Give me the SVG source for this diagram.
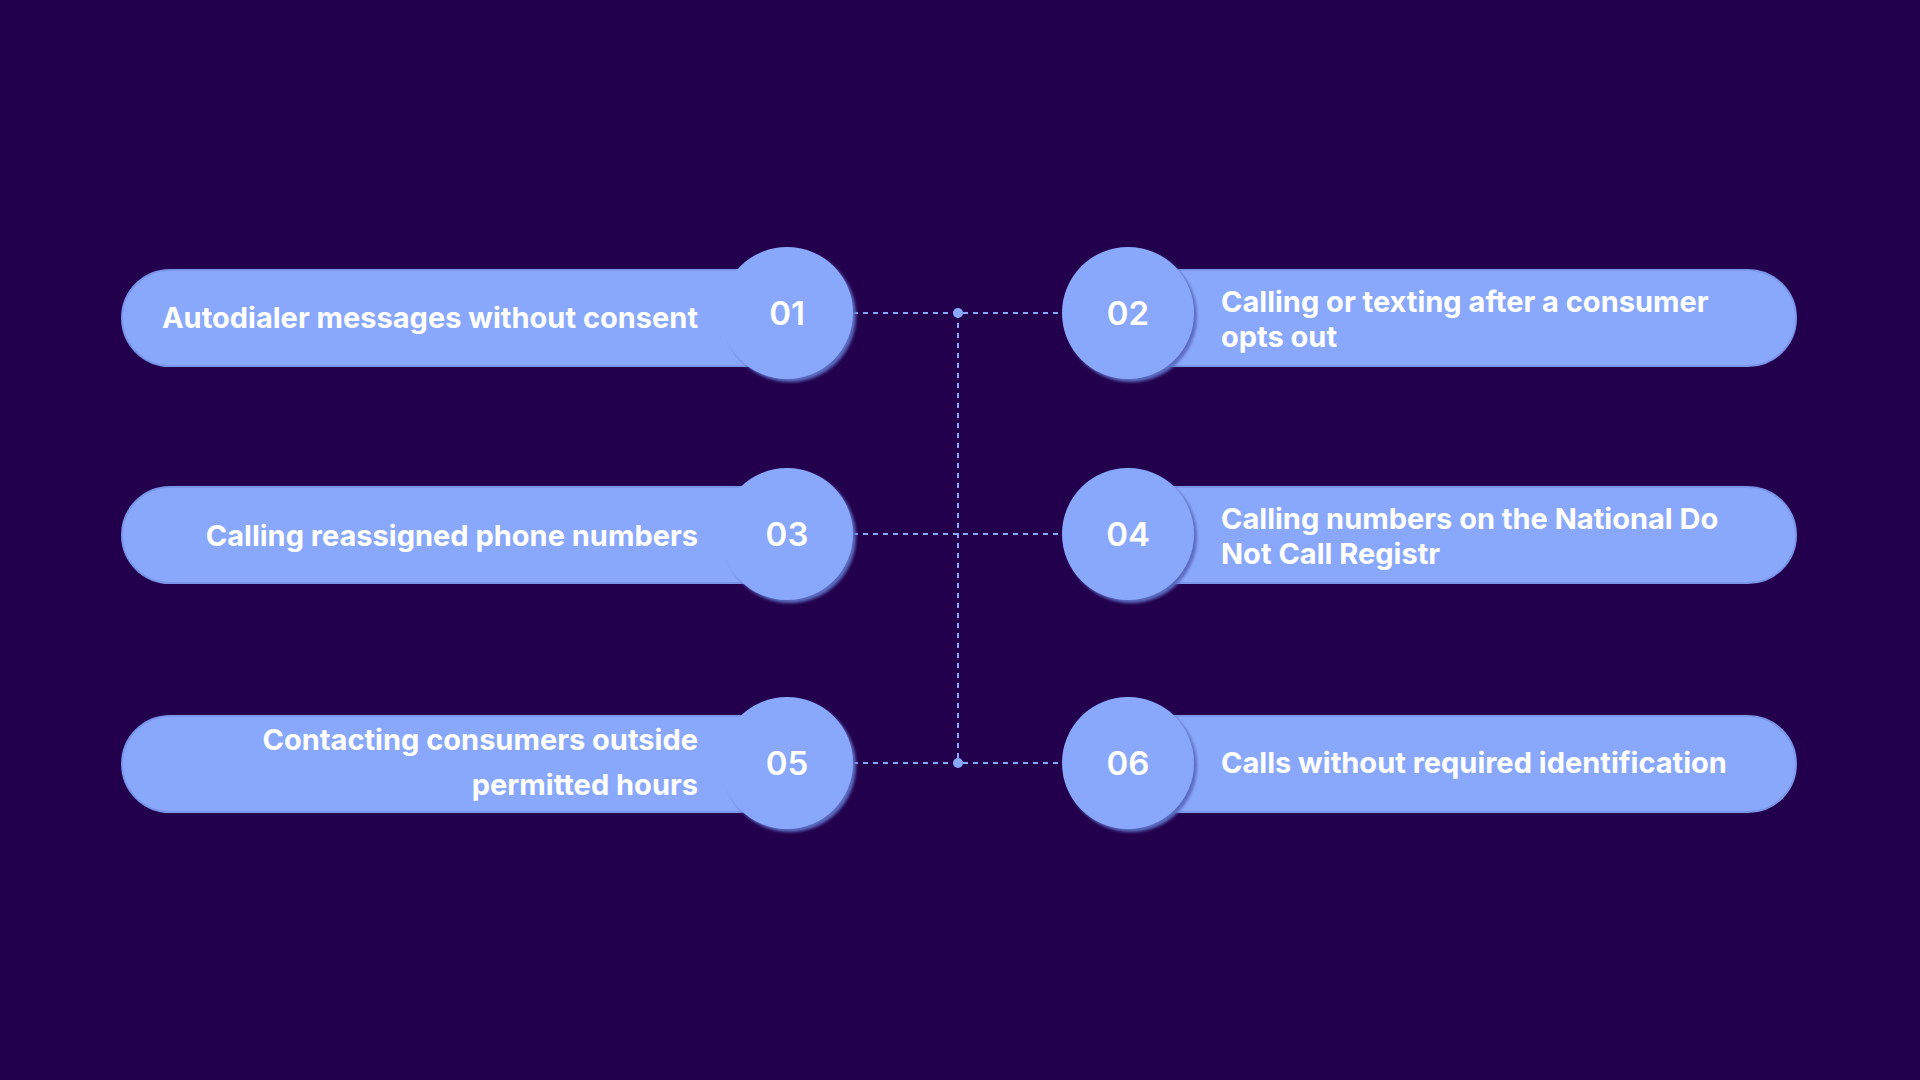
<svg xmlns="http://www.w3.org/2000/svg" width="1920" height="1080" viewBox="0 0 1920 1080">
<defs>
<filter id="sh" x="-20%" y="-20%" width="150%" height="150%"><feDropShadow dx="3" dy="3" stdDeviation="1.5" flood-color="#5a6cc0" flood-opacity="1"/></filter>
</defs>
<style>
.pill{fill:#8aa8fb;stroke:#7a95ea;stroke-width:2}
.circ{fill:#8aa8fb;filter:url(#sh)}
.t{font-family:Inter,"Liberation Sans",sans-serif;font-weight:700;font-size:29px;fill:#fff}
.n{font-family:Inter,"Liberation Sans",sans-serif;font-weight:600;font-size:33px;fill:#fff;text-anchor:middle}
.c{stroke:#8aa8fb;stroke-width:2;stroke-dasharray:5 5;fill:none}
</style>
<rect width="1920" height="1080" fill="#22004d"/>
<g id="connectors">
<path class="c" d="M853 313H1062M853 534H1062M853 763H1062M958 313V763"/>
<circle cx="958" cy="313" r="5" fill="#8aa8fb"/>
<circle cx="958" cy="763" r="5" fill="#8aa8fb"/>
</g>
<g id="n1"><rect class="pill" x="122" y="270" width="700" height="96" rx="48"/><circle class="circ" cx="787" cy="313" r="66"/><text class="n" x="787" y="325">01</text><text class="t" x="698" y="328" text-anchor="end">Autodialer messages without consent</text></g>
<g id="n2"><rect class="pill" x="1095" y="270" width="701" height="96" rx="48"/><circle class="circ" cx="1128" cy="313" r="66"/><text class="n" x="1128" y="325">02</text><text class="t" x="1221" y="312">Calling or texting after a consumer</text><text class="t" x="1221" y="347">opts out</text></g>
<g id="n3"><rect class="pill" x="122" y="487" width="700" height="96" rx="48"/><circle class="circ" cx="787" cy="534" r="66"/><text class="n" x="787" y="546">03</text><text class="t" x="698" y="546" text-anchor="end">Calling reassigned phone numbers</text></g>
<g id="n4"><rect class="pill" x="1095" y="487" width="701" height="96" rx="48"/><circle class="circ" cx="1128" cy="534" r="66"/><text class="n" x="1128" y="546">04</text><text class="t" x="1221" y="529">Calling numbers on the National Do</text><text class="t" x="1221" y="564">Not Call Registr</text></g>
<g id="n5"><rect class="pill" x="122" y="716" width="700" height="96" rx="48"/><circle class="circ" cx="787" cy="763" r="66"/><text class="n" x="787" y="775">05</text><text class="t" x="698" y="750" text-anchor="end">Contacting consumers outside</text><text class="t" x="698" y="795" text-anchor="end">permitted hours</text></g>
<g id="n6"><rect class="pill" x="1095" y="716" width="701" height="96" rx="48"/><circle class="circ" cx="1128" cy="763" r="66"/><text class="n" x="1128" y="775">06</text><text class="t" x="1221" y="773">Calls without required identification</text></g>
</svg>
